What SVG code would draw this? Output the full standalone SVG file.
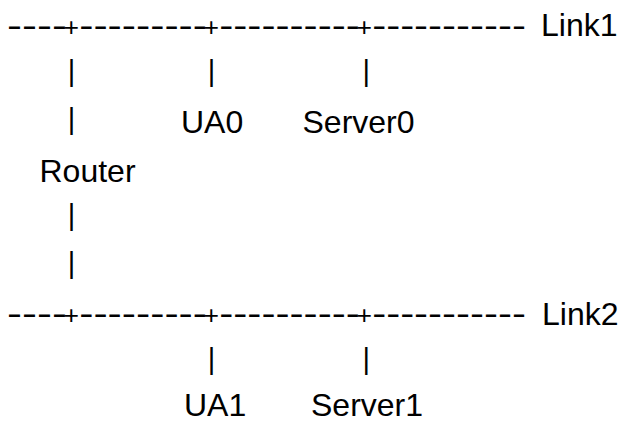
<svg xmlns="http://www.w3.org/2000/svg" width="620" height="423" viewBox="0 0 620 423">
<style>
text{font-family:"Liberation Sans",Arial,sans-serif;fill:#000;font-size:32px}
.p{font-size:26.5px}
.v{font-size:29px;text-anchor:middle}
</style>
<rect width="620" height="423" fill="#fff"/>
<g id="connectors">
<text id="link1-line" y="36"><tspan x="7" textLength="59.9" lengthAdjust="spacingAndGlyphs">----</tspan><tspan class="p" x="63.6">+</tspan><tspan x="79.2" textLength="127.8" lengthAdjust="spacingAndGlyphs">---------</tspan><tspan class="p" x="203.6">+</tspan><tspan x="219.2" textLength="140.7" lengthAdjust="spacingAndGlyphs">----------</tspan><tspan class="p" x="356.6">+</tspan><tspan x="372.2" textLength="153.7" lengthAdjust="spacingAndGlyphs">-----------</tspan></text>
<text id="link2-line" y="324"><tspan x="7" textLength="59.9" lengthAdjust="spacingAndGlyphs">----</tspan><tspan class="p" x="63.6">+</tspan><tspan x="79.2" textLength="127.8" lengthAdjust="spacingAndGlyphs">---------</tspan><tspan class="p" x="203.6">+</tspan><tspan x="219.2" textLength="140.7" lengthAdjust="spacingAndGlyphs">----------</tspan><tspan class="p" x="356.6">+</tspan><tspan x="372.2" textLength="153.7" lengthAdjust="spacingAndGlyphs">-----------</tspan></text>
<g id="drops">
<text class="v" x="71.6" y="81">|</text>
<text class="v" x="211.6" y="81">|</text>
<text class="v" x="366.3" y="81">|</text>
<text class="v" x="71.6" y="129">|</text>
<text class="v" x="71.6" y="225">|</text>
<text class="v" x="71.6" y="273">|</text>
<text class="v" x="211.6" y="369">|</text>
<text class="v" x="366.3" y="369">|</text>
</g>
</g>
<g id="Link1"><text x="541" y="36">Link1</text></g>
<g id="Link2"><text x="542" y="325">Link2</text></g>
<g id="UA0"><text x="181" y="133">UA0</text></g>
<g id="Server0"><text x="302.5" y="133">Server0</text></g>
<g id="Router"><text x="39.5" y="182">Router</text></g>
<g id="UA1"><text x="184" y="416">UA1</text></g>
<g id="Server1"><text x="311" y="416">Server1</text></g>
</svg>
